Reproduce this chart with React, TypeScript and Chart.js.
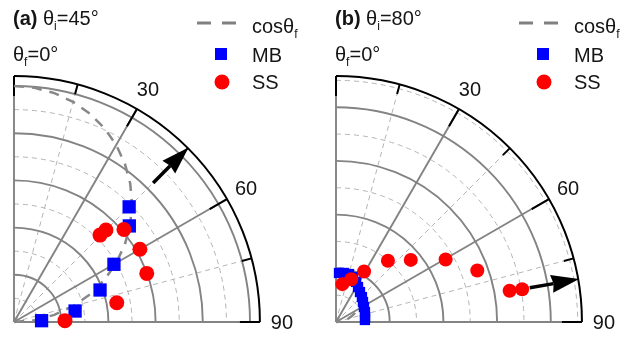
import React, { useEffect, useRef } from "react";
import { Chart, registerables } from "chart.js";
Chart.register(...registerables);

// ---------- data (polar: theta in degrees from vertical, r) ----------
const A_MB_THETA = [45.0, 50.2, 60.0, 69.6, 79.8, 87.3];
const A_MB_R = [0.69, 0.636, 0.489, 0.389, 0.263, 0.117];
const A_SS_THETA = [44.7, 45.0, 49.9, 60.0, 69.9, 79.4, 88.5];
const A_SS_R = [0.518, 0.551, 0.609, 0.616, 0.599, 0.443, 0.216];

const B_MB_THETA = [3.5, 9.3, 15.2, 20.7, 26.6, 32.2, 38.7, 46.1, 53.5, 61.8, 71.0, 80.2, 86.0];
const B_MB_R = [0.183, 0.185, 0.185, 0.179, 0.167, 0.154, 0.143, 0.134, 0.125, 0.118, 0.114, 0.11, 0.108];
const B_SS_THETA = [9.5, 19.7, 29.1, 40.3, 50.3, 60.3, 70.0, 79.8, 80.0];
const B_SS_R = [0.143, 0.169, 0.215, 0.299, 0.362, 0.47, 0.56, 0.657, 0.704];

const COS_THETA = [0, 5, 10, 15, 20, 25, 30, 35, 40, 45, 50, 55, 60, 65, 70, 75, 80, 85, 90];

const ANGLE_TICKS = [0, 15, 30, 45, 60, 75, 90];
const LABEL_ANGLES = [30, 60, 90];
const SOLID_SPOKES = [0, 30, 60, 90];
const DASHED_SPOKES = [15, 45, 75];
const RING_SOLID = [0.2, 0.4, 0.6, 0.8, 1.0];
const RING_DASHED = [0.1, 0.3, 0.5, 0.7, 0.9];

const D2R = Math.PI / 180;
const W = 313;
const H = 337;
const FONT = "'Liberation Sans', Arial, sans-serif";
const TEXT = "#151515";

const PANELS = [
  {
    letter: "(a)", thetaI: 45, mbT: A_MB_THETA, mbR: A_MB_R, ssT: A_SS_THETA, ssR: A_SS_R,
    cosScale: 1, rMax: 1.042, originX: 14, originY: 322, ppu: 236, mbRadius: 9.4, ssRadius: 7.5,
  },
  {
    letter: "(b)", thetaI: 80, mbT: B_MB_THETA, mbR: B_MB_R, ssT: B_SS_THETA, ssR: B_SS_R,
    cosScale: 0.18, rMax: 0.916, originX: 23, originY: 322, ppu: 268.5, mbRadius: 7.3, ssRadius: 7,
  },
];

const toXY = (T: number[], R: number[]) =>
  T.map((t, i) => ({ x: R[i] * Math.sin(t * D2R), y: R[i] * Math.cos(t * D2R) }));

function drawRich(ctx: CanvasRenderingContext2D, parts: any[], x: number, y: number) {
  let cx = x;
  for (const p of parts) {
    const size = p.sub ? 12 : 20;
    ctx.font = `${p.bold ? "bold " : ""}${size}px ${FONT}`;
    ctx.fillStyle = TEXT;
    ctx.textAlign = "left";
    ctx.textBaseline = "alphabetic";
    ctx.fillText(p.text, cx, y + (p.sub ? 5 : 0));
    cx += ctx.measureText(p.text).width;
  }
}

function makePlugin(cfg: any) {
  return {
    id: "polarDecor",
    beforeDatasetsDraw(chart: any) {
      const ctx: CanvasRenderingContext2D = chart.ctx;
      const xs = chart.scales.x, ys = chart.scales.y;
      const ox = xs.getPixelForValue(0), oy = ys.getPixelForValue(0);
      const k = xs.getPixelForValue(1) - ox;
      const rOut = cfg.rMax * k;
      const P = (deg: number, rpx: number) => [ox + rpx * Math.sin(deg * D2R), oy - rpx * Math.cos(deg * D2R)];
      const arc = (rpx: number) => {
        ctx.beginPath();
        ctx.arc(ox, oy, rpx, -Math.PI / 2, 0);
        ctx.stroke();
      };
      ctx.save();
      // dashed grid
      ctx.strokeStyle = "#b4b4b4";
      ctx.lineWidth = 1;
      ctx.setLineDash([5, 4]);
      RING_DASHED.filter((r) => r < cfg.rMax).forEach((r) => arc(r * k));
      DASHED_SPOKES.forEach((d) => {
        const [x1, y1] = P(d, rOut);
        ctx.beginPath();
        ctx.moveTo(ox, oy);
        ctx.lineTo(x1, y1);
        ctx.stroke();
      });
      ctx.setLineDash([]);
      // solid grid
      ctx.strokeStyle = "#838383";
      ctx.lineWidth = 1.9;
      RING_SOLID.filter((r) => r <= cfg.rMax).forEach((r) => arc(r * k));
      SOLID_SPOKES.forEach((d) => {
        const [x1, y1] = P(d, rOut);
        ctx.beginPath();
        ctx.moveTo(ox, oy);
        ctx.lineTo(x1, y1);
        ctx.stroke();
      });
      // outer arc and ticks
      ctx.strokeStyle = "#000";
      ctx.lineWidth = 2;
      arc(rOut);
      ANGLE_TICKS.forEach((d) => {
        const len = d % 30 === 0 ? 20 : 10;
        const [x0, y0] = P(d, rOut - len);
        const [x1, y1] = P(d, rOut);
        ctx.beginPath();
        ctx.moveTo(x0, y0);
        ctx.lineTo(x1, y1);
        ctx.stroke();
      });
      ctx.restore();
    },
    afterDatasetsDraw(chart: any) {
      const ctx: CanvasRenderingContext2D = chart.ctx;
      const xs = chart.scales.x, ys = chart.scales.y;
      const ox = xs.getPixelForValue(0), oy = ys.getPixelForValue(0);
      const k = xs.getPixelForValue(1) - ox;
      const rOut = cfg.rMax * k;
      const P = (deg: number, rpx: number) => [ox + rpx * Math.sin(deg * D2R), oy - rpx * Math.cos(deg * D2R)];
      ctx.save();
      // incidence arrow
      const t = cfg.thetaI;
      const headLen = 28, headHalf = 9;
      const [ax0, ay0] = P(t, rOut * 0.8);
      const [hx, hy] = P(t, rOut - headLen + 3);
      const [tx, ty] = P(t, rOut + 1);
      ctx.strokeStyle = "#000";
      ctx.fillStyle = "#000";
      ctx.lineWidth = 3.5;
      ctx.beginPath();
      ctx.moveTo(ax0, ay0);
      ctx.lineTo(hx, hy);
      ctx.stroke();
      const ux = Math.sin(t * D2R), uy = -Math.cos(t * D2R);
      const bx = tx - ux * headLen, by = ty - uy * headLen;
      ctx.beginPath();
      ctx.moveTo(tx, ty);
      ctx.lineTo(bx - uy * headHalf, by + ux * headHalf);
      ctx.lineTo(bx + ux * 2, by + uy * 2);
      ctx.lineTo(bx + uy * headHalf, by - ux * headHalf);
      ctx.closePath();
      ctx.fill();
      // angle labels
      ctx.font = `20px ${FONT}`;
      ctx.fillStyle = TEXT;
      ctx.textAlign = "center";
      ctx.textBaseline = "middle";
      LABEL_ANGLES.forEach((d) => {
        const [lx, ly] = P(d, rOut + 22);
        ctx.fillText(String(d), lx, ly + 1);
      });
      // titles
      drawRich(ctx, [
        { text: cfg.letter + " ", bold: true },
        { text: "θ" },
        { text: "i", sub: true },
        { text: "=" + cfg.thetaI + "°" },
      ], ox - 1, 25);
      drawRich(ctx, [{ text: "θ" }, { text: "f", sub: true }, { text: "=0°" }], ox - 1, 61);
      // legend
      const lx = ox + 238;
      ctx.strokeStyle = "#808080";
      ctx.lineWidth = 3;
      ctx.setLineDash([14, 11]);
      ctx.beginPath();
      ctx.moveTo(ox + 183, 23);
      ctx.lineTo(ox + 226, 23);
      ctx.stroke();
      ctx.setLineDash([]);
      drawRich(ctx, [{ text: "cosθ" }, { text: "f", sub: true }], lx, 33);
      ctx.fillStyle = "#0000ff";
      ctx.fillRect(ox + 207 - 6, 54 - 6, 12, 12);
      drawRich(ctx, [{ text: "MB" }], lx, 62);
      ctx.fillStyle = "#ff0000";
      ctx.beginPath();
      ctx.arc(ox + 208, 82, 7.5, 0, Math.PI * 2);
      ctx.fill();
      drawRich(ctx, [{ text: "SS" }], lx, 89);
      ctx.restore();
    },
  };
}

function Panel({ cfg, left }: { cfg: any; left: number }) {
  const ref = useRef<HTMLCanvasElement>(null);
  useEffect(() => {
    const canvas = ref.current!;
    const cosR = COS_THETA.map((t) => cfg.cosScale * Math.cos(t * D2R));
    const chart = new Chart(canvas, {
      type: "scatter",
      data: {
        datasets: [
          {
            label: "SS",
            data: toXY(cfg.ssT, cfg.ssR),
            backgroundColor: "#ff0000",
            borderWidth: 0,
            pointStyle: "circle",
            pointRadius: cfg.ssRadius,
            order: 1,
            clip: false,
          },
          {
            label: "MB",
            data: toXY(cfg.mbT, cfg.mbR),
            backgroundColor: "#0000ff",
            borderWidth: 0,
            pointStyle: "rect",
            pointRadius: cfg.mbRadius,
            order: 2,
            clip: false,
          },
          {
            label: "cosθf",
            data: toXY(COS_THETA, cosR),
            showLine: true,
            borderColor: "#888888",
            borderWidth: 2.5,
            borderDash: [10, 8],
            pointRadius: 0,
            fill: false,
            order: 3,
            clip: false,
          } as any,
        ],
      },
      options: {
        responsive: false,
        animation: false,
        devicePixelRatio: 1,
        layout: { padding: 0, autoPadding: false },
        scales: {
          x: { type: "linear", display: false, min: -cfg.originX / cfg.ppu, max: (W - cfg.originX) / cfg.ppu },
          y: { type: "linear", display: false, min: -(H - cfg.originY) / cfg.ppu, max: cfg.originY / cfg.ppu },
        },
        plugins: { legend: { display: false }, tooltip: { enabled: false }, title: { display: false } },
        events: [],
      },
      plugins: [makePlugin(cfg)],
    });
    return () => chart.destroy();
  }, []);
  return (
    <canvas
      ref={ref}
      width={W}
      height={H}
      style={{ position: "absolute", left, top: 0, width: W, height: H }}
    />
  );
}

export default function App() {
  return (
    <div style={{ position: "fixed", left: 0, top: 0, width: 626, height: 337, background: "#fff" }}>
      <Panel cfg={PANELS[0]} left={0} />
      <Panel cfg={PANELS[1]} left={313} />
    </div>
  );
}
